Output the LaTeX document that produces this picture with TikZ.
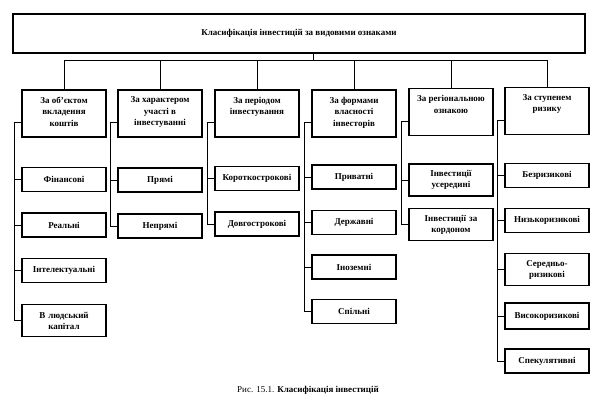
\documentclass[tikz,border=0pt]{standalone}
\usepackage{fontspec}
\setmainfont{Liberation Serif}
\usetikzlibrary{positioning}
\newcommand{\catlines}[1]{\parbox[c][33pt][t]{78pt}{\centering #1}}
\tikzset{
	topbox/.style={draw,line width=1.1pt,minimum width=572pt,minimum height=39pt,font=\bfseries\fontsize{9}{11}\selectfont},
	catbox/.style={draw,line width=1.1pt,inner xsep=3pt,inner ysep=7pt,font=\bfseries\fontsize{9}{11.5}\selectfont},
	itembox/.style={draw,line width=1.1pt,text width=78pt,align=center,inner sep=3pt,minimum height=24pt,font=\bfseries\fontsize{9}{11}\selectfont},
	tallbox/.style={itembox,minimum height=32pt},
	link/.style={line width=0.7pt}
}
\begin{document}
\begin{tikzpicture}[x=1pt,y=-1pt]
	\useasboundingbox (0,0) rectangle (600,416);
	% the main box
	\node[topbox] (top) at (299,33.5) {Класифікація інвестицій за видовими ознаками};
	\coordinate (bus) at (313,60);
	%% the six groups
	\node[catbox] (c1) at (64,113.5) {\catlines{За об’єктом\\ вкладення\\ коштів}};
	\node[catbox] (c2) at (160,113.5) {\catlines{За характером\\ участі в\\ інвестуванні}};
	\node[catbox] (c3) at (257,113.5) {\catlines{За періодом\\ інвестування}};
	\node[catbox] (c4) at (354,113.5) {\catlines{За формами\\ власності\\ інвесторів}};
	\node[catbox] (c5) at (451,112) {\catlines{За регіональною\\ ознакою}};
	\node[catbox] (c6) at (547,111) {\catlines{За ступенем\\ ризику}};
	%% the kinds
	\node[itembox] (fin) at (64,179.5) {Фінансові};
	\node[itembox] (real) at (64,225) {Реальні};
	\node[itembox] (intel) at (64,270.5) {Інтелектуальні};
	\node[tallbox] (human) at (64,320.5) {В людський\\ капітал};
	\node[itembox] (direct) at (160,180) {Прямі};
	\node[itembox] (indirect) at (160,226) {Непрямі};
	\node[itembox] (short) at (257,178.5) {Короткострокові};
	\node[itembox] (long) at (257,224) {Довгострокові};
	\node[itembox] (private) at (354,177) {Приватні};
	\node[itembox] (state) at (354,222.5) {Державні};
	\node[itembox] (foreign) at (354,267) {Іноземні};
	\node[itembox] (joint) at (354,311.5) {Спільні};
	\node[tallbox] (inside) at (451,180) {Інвестиції\\ усередині};
	\node[tallbox] (abroad) at (451,224.5) {Інвестиції за\\ кордоном};
	\node[itembox] (risk1) at (547,175.5) {Безризикові};
	\node[itembox] (risk2) at (547,220.5) {Низькоризикові};
	\node[tallbox] (risk3) at (547,269.5) {Середньо-\\ризикові};
	\node[itembox,minimum height=26pt] (risk4) at (547,316) {Високоризикові};
	\node[itembox] (risk5) at (547,361) {Спекулятивні};
	% the caption
	\node[font=\fontsize{9}{11}\selectfont] (caption) at (308,390) {Рис. 15.1. \textbf{Класифікація інвестицій}};
	%% top to groups
	\draw[link] (top.south -| bus) -- (bus);
	\draw[link] (c1.north) |- (c6.north |- bus) -- (c6.north);
	\draw[link] (c2.north) -- (c2.north |- bus);
	\draw[link] (c3.north) -- (c3.north |- bus);
	\draw[link] (c4.north) -- (c4.north |- bus);
	\draw[link] (c5.north) -- (c5.north |- bus);
	%% groups to kinds
	\draw[link] ([yshift=-9pt]c1.west) -- ++(-7pt,0) |- (human.west);
	\draw[link] (fin.west) -- ++(-7pt,0);
	\draw[link] (real.west) -- ++(-7pt,0);
	\draw[link] (intel.west) -- ++(-7pt,0);
	\draw[link] ([yshift=-9pt]c2.west) -- ++(-7pt,0) |- (indirect.west);
	\draw[link] (direct.west) -- ++(-7pt,0);
	\draw[link] ([yshift=-9pt]c3.west) -- ++(-7pt,0) |- (long.west);
	\draw[link] (short.west) -- ++(-7pt,0);
	\draw[link] ([yshift=-9pt]c4.west) -- ++(-7pt,0) |- (joint.west);
	\draw[link] (private.west) -- ++(-7pt,0);
	\draw[link] (state.west) -- ++(-7pt,0);
	\draw[link] (foreign.west) -- ++(-7pt,0);
	\draw[link] ([yshift=-9pt]c5.west) -- ++(-7pt,0) |- (abroad.west);
	\draw[link] (inside.west) -- ++(-7pt,0);
	\draw[link] ([yshift=-9pt]c6.west) -- ++(-7pt,0) |- (risk5.west);
	\draw[link] (risk1.west) -- ++(-7pt,0);
	\draw[link] (risk2.west) -- ++(-7pt,0);
	\draw[link] (risk3.west) -- ++(-7pt,0);
	\draw[link] (risk4.west) -- ++(-7pt,0);
\end{tikzpicture}
\end{document}
